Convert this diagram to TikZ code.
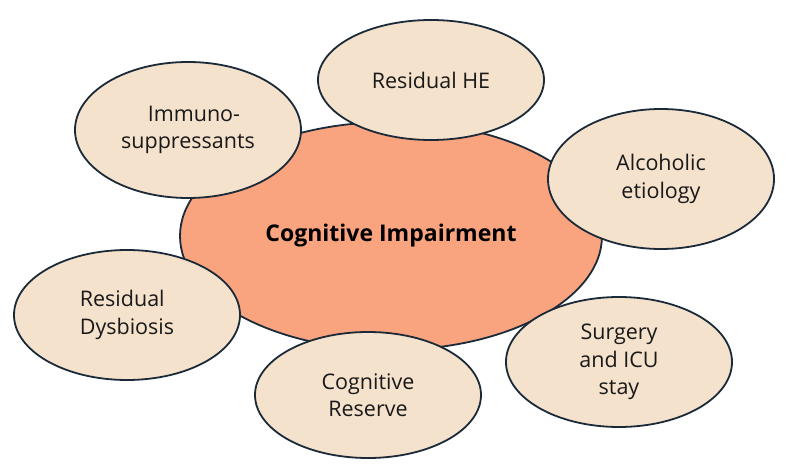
\documentclass[tikz,border=0pt]{standalone}
\usepackage{fontspec}
\setmainfont{Open Sans}
\usetikzlibrary{shapes.geometric}
\definecolor{edgec}{HTML}{1B2A38}
\definecolor{satfill}{HTML}{F5E2CD}
\definecolor{cenfill}{HTML}{F9A47F}
\tikzset{
  sat/.style={ellipse, draw=edgec, line width=1.8pt, fill=satfill, minimum width=226pt, minimum height=#1, inner sep=0pt, align=center, font=\fontsize{21.5}{27.5}\selectfont, text=black!90},
  sat/.default=132pt,
  cen/.style={ellipse, draw=edgec, line width=1.8pt, fill=cenfill, minimum width=422pt, minimum height=228pt, inner sep=0pt, font=\bfseries\fontsize{23}{27}\selectfont}
}
\begin{document}
\begin{tikzpicture}[x=1pt,y=-1pt]
\useasboundingbox (0,0) rectangle (792,470);
\node[cen] (ci) at (391,236) {Cognitive Impairment};
\node[sat=120pt] (he) at (431,80) {Residual HE};
\node[sat=136pt] (im) at (188,130) {\hspace*{12pt}Immuno-\\suppressants};
\node[sat=140pt] (al) at (661,179) {Alcoholic\\etiology};
\node[sat=130pt, align=left] (dy) at (127,315) {Residual\\Dysbiosis};
\node[sat=126pt] (cr) at (368,395) {Cognitive\\Reserve};
\node[sat=130pt] (su) at (619,362) {Surgery\\and ICU\\stay};
\end{tikzpicture}
\end{document}
